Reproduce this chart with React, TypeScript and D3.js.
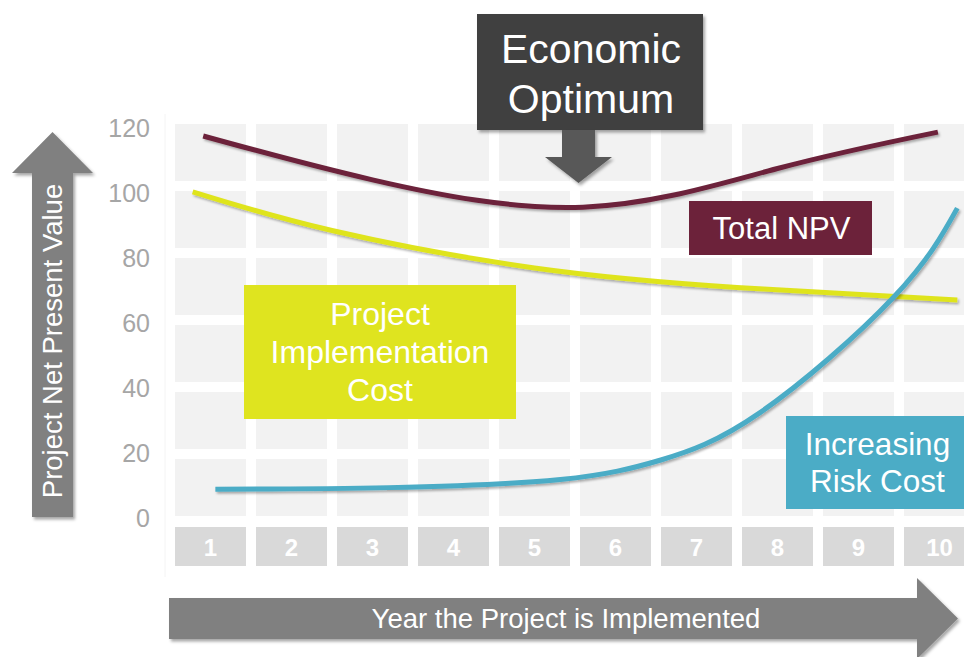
import React from "react";
import * as d3 from "d3";

// ---- data ----
const years = [1, 2, 3, 4, 5, 6, 7, 8, 9, 10];
const yTicks = [0, 20, 40, 60, 80, 100, 120];
const gridRows = [0, 1, 2, 3, 4, 5];

const totalNpvYears = [0.91, 3, 5.6, 8, 9.98];
const totalNpvValues = [117.7, 104.2, 95.8, 107.7, 118.9];

const implYears = [0.78, 2.5, 5, 7.5, 10.22];
const implValues = [100.5, 88.6, 77.1, 71.1, 67.2];

const riskYears = [1.06, 3.2, 5.32, 6.56, 7.78, 9.43, 10.22];
const riskValues = [9.0, 9.5, 12.0, 18.0, 32.5, 68.0, 95.5];

const yAxisTitle = "Project Net Present Value";
const xAxisTitle = "Year the Project is Implemented";
const optimumLines = ["Economic", "Optimum"];
const npvLabel = ["Total NPV"];
const implLabel = ["Project", "Implementation", "Cost"];
const riskLabel = ["Increasing", "Risk Cost"];

const FONT = "'Liberation Sans', Arial, sans-serif";

export default function App() {
  const W = 964;
  const H = 657;

  const x = d3.scaleLinear().domain([1, 10]).range([210.5, 939.5]);
  const y = d3.scaleLinear().domain([0, 120]).range([518.5, 128.5]);

  const colBand = d3
    .scaleBand<number>()
    .domain(years)
    .range([170, 980])
    .paddingInner(10 / 81)
    .paddingOuter(5 / 81);
  const rowBand = d3
    .scaleBand<number>()
    .domain(gridRows)
    .range([119, 521])
    .paddingInner(10 / 67)
    .paddingOuter(5 / 67);

  const line = d3
    .line<[number, number]>()
    .x((d) => x(d[0]))
    .y((d) => y(d[1]))
    .curve(d3.curveNatural);

  const series = [
    { xs: implYears, vs: implValues, color: "#dfe41f" },
    { xs: riskYears, vs: riskValues, color: "#4bacc6" },
    { xs: totalNpvYears, vs: totalNpvValues, color: "#6c223a" },
  ];

  return (
    <svg
      width={W}
      height={H}
      style={{ position: "absolute", left: 0, top: 0, background: "#fff" }}
      fontFamily={FONT}
    >
      <defs>
        <filter id="sh" x="-10%" y="-10%" width="130%" height="140%">
          <feDropShadow dx="2" dy="2.5" stdDeviation="1.6" floodColor="#000" floodOpacity="0.35" />
        </filter>
        <filter id="shs" x="-10%" y="-20%" width="130%" height="160%">
          <feDropShadow dx="1.5" dy="2" stdDeviation="1.2" floodColor="#000" floodOpacity="0.3" />
        </filter>
      </defs>

      {/* faint chart area border */}
      <line x1={165} x2={165} y1={114} y2={577} stroke="#f4f4f4" strokeWidth={1} />

      {/* grid cells */}
      {gridRows.map((r) =>
        years.map((c) => (
          <rect
            key={`${r}-${c}`}
            x={colBand(c)}
            y={rowBand(r)}
            width={colBand.bandwidth()}
            height={rowBand.bandwidth()}
            fill="#f2f2f2"
          />
        ))
      )}

      {/* x tick cells */}
      {years.map((c) => (
        <g key={`xt-${c}`}>
          <rect x={colBand(c)} y={527} width={colBand.bandwidth()} height={39} fill="#d9d9d9" />
          <text
            x={(colBand(c) as number) + colBand.bandwidth() / 2}
            y={556}
            textAnchor="middle"
            fill="#fff"
            fontWeight="bold"
            fontSize={24}
          >
            {c}
          </text>
        </g>
      ))}

      {/* y tick labels */}
      {yTicks.map((t) => (
        <text
          key={`yt-${t}`}
          x={150}
          y={y(t)}
          dy="0.35em"
          textAnchor="end"
          fill="#a6a6a6"
          fontSize={25}
        >
          {t}
        </text>
      ))}

      {/* lines */}
      {series.map((s, i) => (
        <path
          key={i}
          d={line(s.xs.map((v, j) => [v, s.vs[j]] as [number, number])) || ""}
          fill="none"
          stroke={s.color}
          strokeWidth={5}
          filter="url(#shs)"
        />
      ))}

      {/* Y axis arrow */}
      <path
        d="M32,517 L32,173 L12,173 L52.5,132 L93,173 L73,173 L73,517 Z"
        fill="#808080"
        filter="url(#sh)"
      />
      <text
        transform="translate(52,341) rotate(-90)"
        textAnchor="middle"
        dy="0.35em"
        fill="#fff"
        fontSize={27.5}
      >
        {yAxisTitle}
      </text>

      {/* X axis arrow */}
      <path
        d="M169,598 L917,598 L917,578 L958,618.5 L917,659 L917,639 L169,639 Z"
        fill="#808080"
        filter="url(#sh)"
      />
      <text x={566} y={618.5} dy="0.35em" textAnchor="middle" fill="#fff" fontSize={27.5}>
        {xAxisTitle}
      </text>

      {/* Economic optimum */}
      <rect x={477} y={14} width={226} height={116} fill="#404040" filter="url(#sh)" />
      {optimumLines.map((t, i) => (
        <text key={t} x={591} y={63 + i * 50} textAnchor="middle" fill="#fff" fontSize={41}>
          {t}
        </text>
      ))}
      <path
        d="M562,130 L595,130 L595,157 L612,157 L578.5,183 L545,157 L562,157 Z"
        fill="#595959"
        filter="url(#sh)"
      />

      {/* Total NPV label */}
      <rect x={689} y={201} width={183} height={54} fill="#6c223a" />
      <text x={781.5} y={239} textAnchor="middle" fill="#fff" fontSize={31}>
        {npvLabel[0]}
      </text>

      {/* Project Implementation Cost label */}
      <rect x={244} y={285} width={272} height={134} fill="#dfe41f" />
      {implLabel.map((t, i) => (
        <text key={t} x={380} y={325 + i * 38} textAnchor="middle" fill="#fff" fontSize={32}>
          {t}
        </text>
      ))}

      {/* Increasing Risk Cost label */}
      <rect x={786} y={416} width={180} height={93} fill="#4bacc6" />
      {riskLabel.map((t, i) => (
        <text key={t} x={877.5} y={455 + i * 37} textAnchor="middle" fill="#fff" fontSize={31.5}>
          {t}
        </text>
      ))}
    </svg>
  );
}
